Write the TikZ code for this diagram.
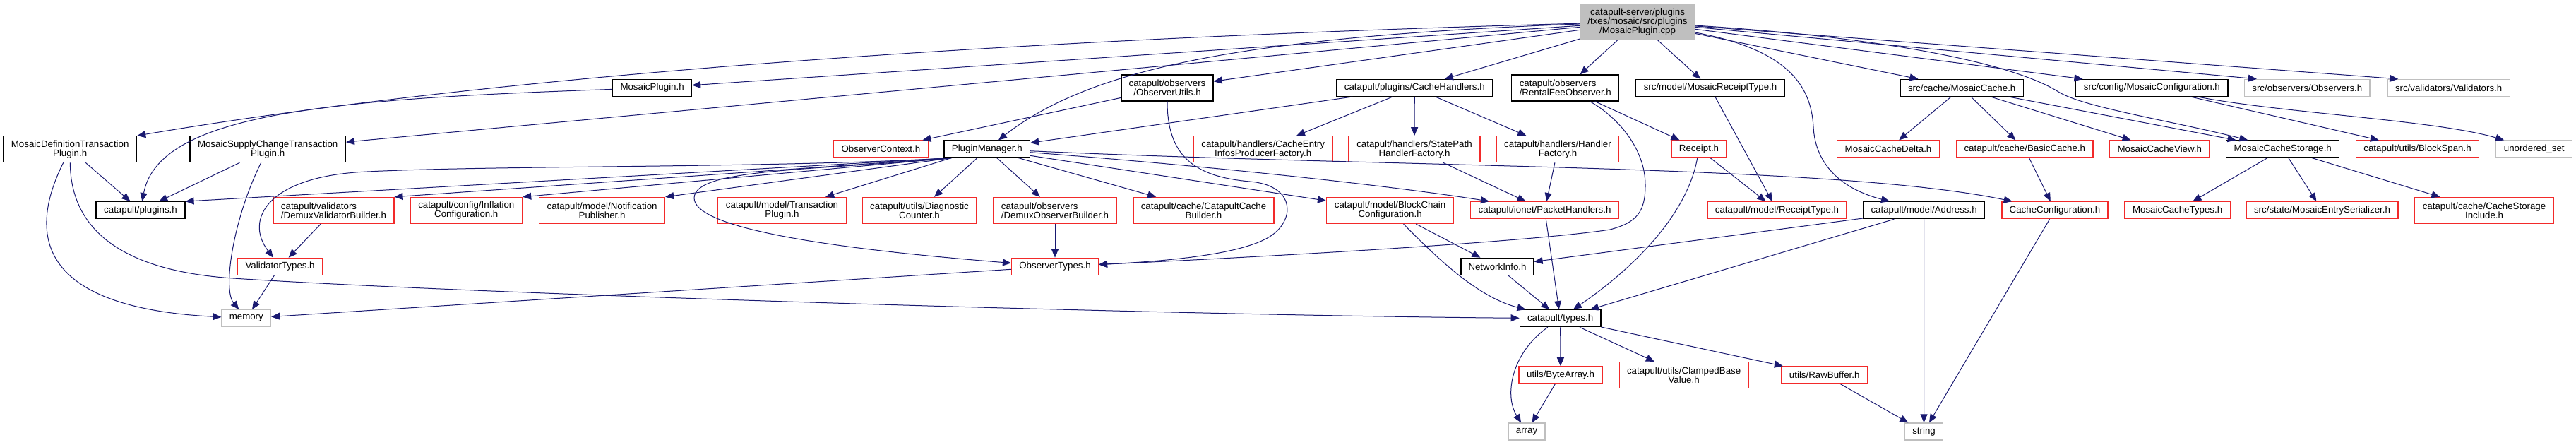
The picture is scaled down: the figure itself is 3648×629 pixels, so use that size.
\documentclass[tikz,border=0pt]{standalone}
\usepackage{fontspec}
\setmainfont{Liberation Sans}
\usepackage{tikz}
\usetikzlibrary{arrows.meta}
\definecolor{dxedge}{HTML}{191970}
\definecolor{dxred}{HTML}{F22A2A}
\definecolor{dxgray}{HTML}{BFBFBF}
\newcommand{\dxfont}{\fontsize{13.3}{13}\selectfont}
\tikzset{
  hfile/.style={draw=black,line width=1.2pt,inner sep=0pt,align=center,font=\dxfont,minimum height=24pt},
  hred/.style={hfile,draw=dxred},   % file with hidden includes
  hsys/.style={hfile,draw=dxgray},  % system header
  hmain/.style={hfile,fill=dxgray,minimum height=50.6pt},
  dbl/.style={minimum height=37pt},
  inc/.style={draw=dxedge,line width=1pt,-{Triangle[length=12pt,width=10pt]}},
}
\begin{document}
\begin{tikzpicture}[x=1pt,y=-1pt]
  \useasboundingbox (0,0) rectangle (3648,629);
  % row 0
  \node[hmain,minimum width=163pt] (root) at (2319,30.9) {catapult-server/plugins\\/txes/mosaic/src/plugins\\/MosaicPlugin.cpp};
  % row 1
  \node[hfile,minimum width=112pt] (mplug) at (923.6,124.4) {MosaicPlugin.h};
  \node[hfile,dbl,minimum width=130pt] (obsutils) at (1653,124.4) {catapult/observers\\/ObserverUtils.h};
  \node[hfile,minimum width=220.6pt] (cachehdl) at (2003.3,124.4) {catapult/plugins/CacheHandlers.h};
  \node[hfile,dbl,align=left,minimum width=152pt] (rental) at (2216.8,124.4) {catapult/observers\\/RentalFeeObserver.h};
  \node[hfile,minimum width=210.5pt] (mrtype) at (2422,124.4) {src/model/MosaicReceiptType.h};
  \node[hfile,minimum width=174.4pt] (mcache) at (2778.2,124.4) {src/cache/MosaicCache.h};
  \node[hfile,minimum width=215.3pt] (mconf) at (3047.4,124.4) {src/config/MosaicConfiguration.h};
  \node[hsys,minimum width=177.4pt] (observers) at (3267.3,124.4) {src/observers/Observers.h};
  \node[hsys,minimum width=173.4pt] (validators) at (3467.6,124.4) {src/validators/Validators.h};
  % row 2
  \node[hfile,dbl,minimum width=189pt] (mdef) at (99.2,211.2) {MosaicDefinitionTransaction\\Plugin.h};
  \node[hfile,dbl,minimum width=220.5pt] (msup) at (379.2,211.2) {MosaicSupplyChangeTransaction\\Plugin.h};
  \node[hred,minimum width=133.8pt] (obsctx) at (1247.4,211) {ObserverContext.h};
  \node[hfile,minimum width=121.6pt] (pm) at (1397.8,211) {PluginManager.h};
  \node[hred,dbl,minimum width=196.7pt] (centry) at (1788.7,211.2) {catapult/handlers/CacheEntry\\InfosProducerFactory.h};
  \node[hred,dbl,minimum width=186pt] (statepath) at (2003,211.2) {catapult/handlers/StatePath\\HandlerFactory.h};
  \node[hred,dbl,minimum width=173pt] (hfactory) at (2206,211.2) {catapult/handlers/Handler\\Factory.h};
  \node[hred,minimum width=78pt] (receipt) at (2406,211) {Receipt.h};
  \node[hred,minimum width=144.7pt] (mcdelta) at (2674,211) {MosaicCacheDelta.h};
  \node[hred,minimum width=193.5pt] (basiccache) at (2867.3,211) {catapult/cache/BasicCache.h};
  \node[hred,minimum width=141.4pt] (mcview) at (3058.3,211) {MosaicCacheView.h};
  \node[hfile,minimum width=160.2pt] (mcstore) at (3232.7,211) {MosaicCacheStorage.h};
  \node[hred,minimum width=174.2pt] (blockspan) at (3423.5,211) {catapult/utils/BlockSpan.h};
  \node[hsys,minimum width=108pt] (uset) at (3588.7,211) {unordered\_set};
  % row 3
  \node[hfile,minimum width=126pt] (plugins) at (199,297.7) {catapult/plugins.h};
  \node[hred,dbl,align=left,minimum width=171pt] (dvb) at (472.5,297.9) {catapult/validators\\/DemuxValidatorBuilder.h};
  \node[hred,dbl,minimum width=158.6pt] (inflconf) at (660.3,297.9) {catapult/config/Inflation\\Configuration.h};
  \node[hred,dbl,minimum width=178pt] (notipub) at (852.6,297.9) {catapult/model/Notification\\Publisher.h};
  \node[hred,dbl,minimum width=181.5pt] (txplugin) at (1107.5,297.9) {catapult/model/Transaction\\Plugin.h};
  \node[hred,dbl,minimum width=161.3pt] (diagcnt) at (1302,297.9) {catapult/utils/Diagnostic\\Counter.h};
  \node[hred,dbl,align=left,minimum width=174pt] (dob) at (1494,297.9) {catapult/observers\\/DemuxObserverBuilder.h};
  \node[hred,dbl,minimum width=199pt] (ccbuild) at (1704.5,297.9) {catapult/cache/CatapultCache\\Builder.h};
  \node[hred,dbl,minimum width=180pt] (bcconf) at (1968.6,297.9) {catapult/model/BlockChain\\Configuration.h};
  \node[hred,minimum width=210.4pt] (pkthdl) at (2187.5,297.7) {catapult/ionet/PacketHandlers.h};
  \node[hred,minimum width=197pt] (rtype) at (2516.5,297.7) {catapult/model/ReceiptType.h};
  \node[hfile,minimum width=172.4pt] (address) at (2724.6,297.7) {catapult/model/Address.h};
  \node[hred,minimum width=150pt] (cacheconf) at (2910,297.7) {CacheConfiguration.h};
  \node[hred,minimum width=149.2pt] (mctypes) at (3083.6,297.7) {MosaicCacheTypes.h};
  \node[hred,minimum width=215pt] (mentry) at (3288.5,297.7) {src/state/MosaicEntrySerializer.h};
  \node[hred,dbl,minimum width=196.7pt] (csinc) at (3518,297.9) {catapult/cache/CacheStorage\\Include.h};
  % row 4
  \node[hred,minimum width=120pt] (valtypes) at (396.6,377.3) {ValidatorTypes.h};
  \node[hred,minimum width=123pt] (obstypes) at (1494,377.3) {ObserverTypes.h};
  \node[hfile,minimum width=103pt] (netinfo) at (2120.5,377.3) {NetworkInfo.h};
  % row 5
  \node[hsys,minimum width=69.6pt] (memory) at (348.8,450.7) {memory};
  \node[hfile,minimum width=114.7pt] (types) at (2209.6,450.7) {catapult/types.h};
  % row 6
  \node[hred,minimum width=118pt] (bytearr) at (2210,530.8) {utils/ByteArray.h};
  \node[hred,dbl,minimum width=183pt] (clamped) at (2384.6,531) {catapult/utils/ClampedBase\\Value.h};
  \node[hred,minimum width=121.4pt] (rawbuf) at (2583.7,530.8) {utils/RawBuffer.h};
  % row 7
  \node[hsys,minimum width=52pt] (array) at (2162,611) {array};
  \node[hsys,minimum width=54pt] (string) at (2724.5,611) {string};

  % straight includes
  \foreach \a/\b in {root/mplug,root/msup,root/obsutils,root/cachehdl,root/rental,root/mrtype,
      root/mcache,root/mconf,root/observers.170,root/validators.170,
      mdef/plugins,msup/plugins,
      pm.194/plugins.north east,pm.194/dvb.north east,pm.194/inflconf.north east,
      pm.194/notipub.north east,pm.194/txplugin,pm/diagcnt,pm/dob,pm/ccbuild,pm/bcconf,
      obsutils/obsctx,cachehdl/pm,cachehdl/centry,cachehdl/statepath,cachehdl/hfactory,
      rental/receipt,mrtype/rtype,receipt/rtype,statepath/pkthdl,hfactory/pkthdl,pkthdl/types,
      bcconf/netinfo,netinfo/types,address/netinfo,address/types,address/string,
      types/bytearr,types/clamped,types/rawbuf,bytearr/array,rawbuf/string,cacheconf/string,
      mcache/mcdelta,mcache/basiccache,mcache/mcview,mcache/mcstore,basiccache/cacheconf,
      mcstore/mctypes,mcstore/mentry,mcstore/csinc,mconf/blockspan,
      dvb/valtypes,valtypes/memory,dob/obstypes,obstypes/memory}
    \draw[inc] (\a) -- (\b);

  % curved includes
  \draw[inc] (root) .. controls (1400,56) and (700,107) .. (mdef.north east);
  \draw[inc] (root) .. controls (1750,52) and (1540,100) .. (pm);
  \draw[inc] (root) .. controls (2530,70) and (2565,120) .. (2568,180)
    .. controls (2571,235) and (2610,268) .. (address);
  \draw[inc] (root) .. controls (2700,55) and (2860,95) .. (2915,130)
    .. controls (2950,152) and (3080,172) .. (mcstore);
  \draw[inc] (mplug) .. controls (480,140) and (225,158) .. (plugins);
  \draw[inc] (mdef) .. controls (40,330) and (50,435) .. (memory);
  \draw[inc] (mdef) .. controls (100,330) and (180,384) .. (330,394)
    .. controls (700,418) and (1700,447) .. (types);
  \draw[inc] (msup) .. controls (330,310) and (315,410) .. (memory);
  \draw[inc] (pm.194) .. controls (1100,238) and (700,234) .. (520,243)
    .. controls (380,249) and (345,310) .. (valtypes);
  \draw[inc] (pm.194) .. controls (1150,242) and (985,238) .. (983,280)
    .. controls (982,320) and (1150,350) .. (obstypes);
  \draw[inc] (pm) .. controls (1750,238) and (1990,266) .. (pkthdl);
  \draw[inc] (pm) .. controls (2000,238) and (2600,233) .. (cacheconf);
  \draw[inc] (obsutils) .. controls (1653,220) and (1690,250) .. (1770,257)
    .. controls (1830,262) and (1835,305) .. (1805,330)
    .. controls (1770,360) and (1650,370) .. (obstypes);
  \draw[inc] (rental) .. controls (2290,165) and (2330,210) .. (2330,262)
    .. controls (2330,300) and (2318,315) .. (2280,325)
    .. controls (2150,345) and (1700,368) .. (obstypes);
  \draw[inc] (receipt) .. controls (2390,300) and (2320,375) .. (types);
  \draw[inc] (bcconf) .. controls (2030,360) and (2090,420) .. (types);
  \draw[inc] (types) .. controls (2140,500) and (2130,560) .. (array);
  \draw[inc] (mconf) .. controls (3230,160) and (3450,170) .. (uset);
\end{tikzpicture}
\end{document}
